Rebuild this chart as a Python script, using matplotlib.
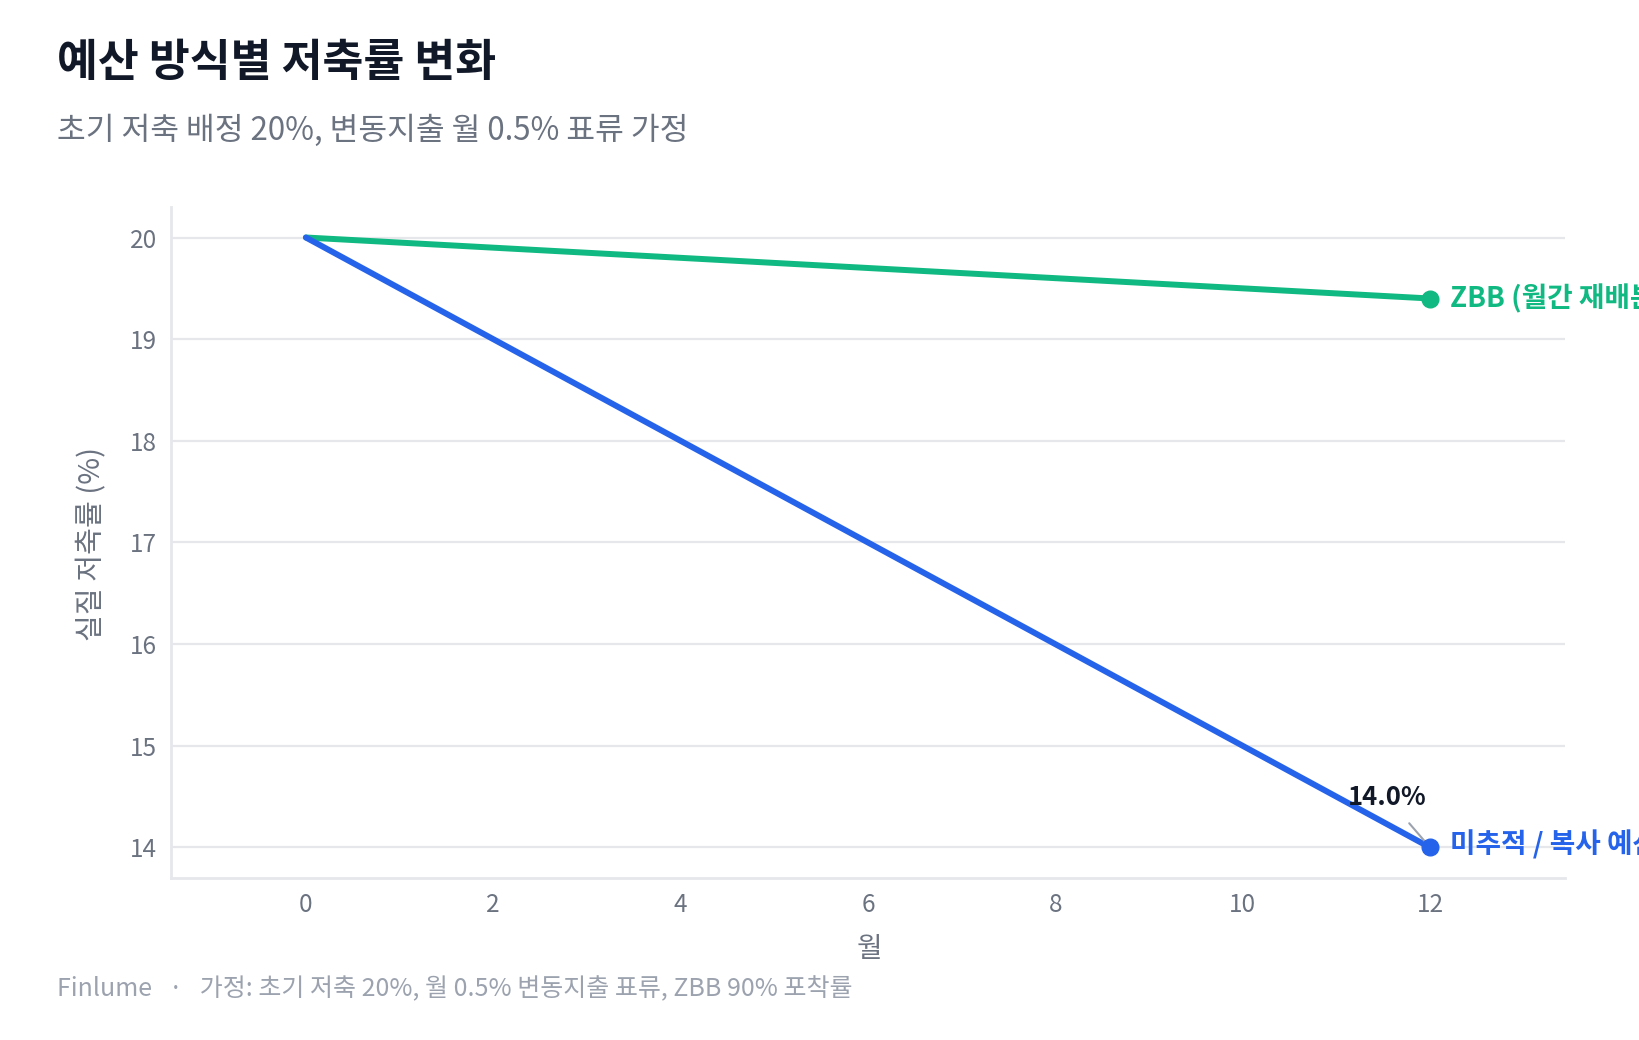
import matplotlib
matplotlib.use("Agg")
import matplotlib.pyplot as plt

plt.rcParams['font.family'] = ['Noto Sans CJK KR', 'DejaVu Sans']

# 월별 데이터
months = [0, 1, 2, 3, 4, 5, 6, 7, 8, 9, 10, 11, 12]
untracked = [20.0, 19.5, 19.0, 18.5, 18.0, 17.5, 17.0, 16.5, 16.0, 15.5, 15.0, 14.5, 14.0]
zbb = [20.0, 19.95, 19.9, 19.85, 19.8, 19.75, 19.7, 19.65, 19.6, 19.55, 19.5, 19.45, 19.4]
label_untracked = "미추적 / 복사 예산"
label_zbb = "ZBB (월간 재배분)"

blue = "#2563eb"
green = "#10b981"
grid_c = "#e5e7eb"

fig = plt.figure(figsize=(16.39, 10.40), dpi=100)
ax = fig.add_axes([171/1639, 1-878/1040, (1565-171)/1639, (878-207)/1040])

ax.plot(months, zbb, color=green, lw=4.3, solid_capstyle='round', zorder=3)
ax.plot(months, untracked, color=blue, lw=4.3, solid_capstyle='round', zorder=3)
ax.plot(months[-1], zbb[-1], 'o', color=green, ms=12, zorder=4)
ax.plot(months[-1], untracked[-1], 'o', color=blue, ms=12, zorder=4)

# 선 끝 라벨 (참조 그림처럼 오른쪽 가장자리에서 잘림)
ax.annotate(label_zbb, (months[-1], zbb[-1]), xytext=(14, 0), textcoords='offset points',
            color=green, fontsize=20, fontweight='bold', va='center', annotation_clip=False)
ax.annotate(label_untracked, (months[-1], untracked[-1]), xytext=(14, 2), textcoords='offset points',
            color=blue, fontsize=20, fontweight='bold', va='center', annotation_clip=False)
ax.annotate(f"{untracked[-1]:.1f}%", (months[-1], untracked[-1]), xytext=(-31, 36),
            textcoords='offset points', ha='center', va='center', fontsize=18.5,
            fontweight='bold', color="#111827",
            arrowprops=dict(arrowstyle='-', color='#9ca3af', lw=1.5, shrinkA=9, shrinkB=6))

ax.set_xlim(-1.44, 13.44)
ax.set_ylim(13.7, 20.3)
ax.set_xticks([0, 2, 4, 6, 8, 10, 12])
ax.set_yticks([14, 15, 16, 17, 18, 19, 20])
ax.tick_params(length=0, labelsize=17.5, colors="#6b7280", pad=10)
ax.grid(axis='y', color=grid_c, lw=1.6)
ax.set_axisbelow(True)
for s in ['top', 'right']:
    ax.spines[s].set_visible(False)
for s in ['left', 'bottom']:
    ax.spines[s].set_color(grid_c)
    ax.spines[s].set_linewidth(2)

ax.set_xlabel("월", fontsize=20, color="#6b7280", va='center')
ax.xaxis.set_label_coords(0.5007, -0.106)
ax.set_ylabel("실질 저축률 (%)", fontsize=21, color="#6b7280", va='center')
ax.yaxis.set_label_coords(-0.0567, 0.498)

fig.text(57/1639, 1-63/1040, "예산 방식별 저축률 변화", fontsize=32, fontweight='bold',
         color="#111827", va='center')
fig.text(57/1639, 1-131/1040, "초기 저축 배정 20%, 변동지출 월 0.5% 표류 가정", fontsize=22.5,
         color="#6b7280", va='center')
fig.text(57/1639, 1-989/1040, "Finlume   ·   가정: 초기 저축 20%, 월 0.5% 변동지출 표류, ZBB 90% 포착률",
         fontsize=18, color="#9ca3af", va='center')

fig.savefig("out.png", dpi=100, facecolor="white")
